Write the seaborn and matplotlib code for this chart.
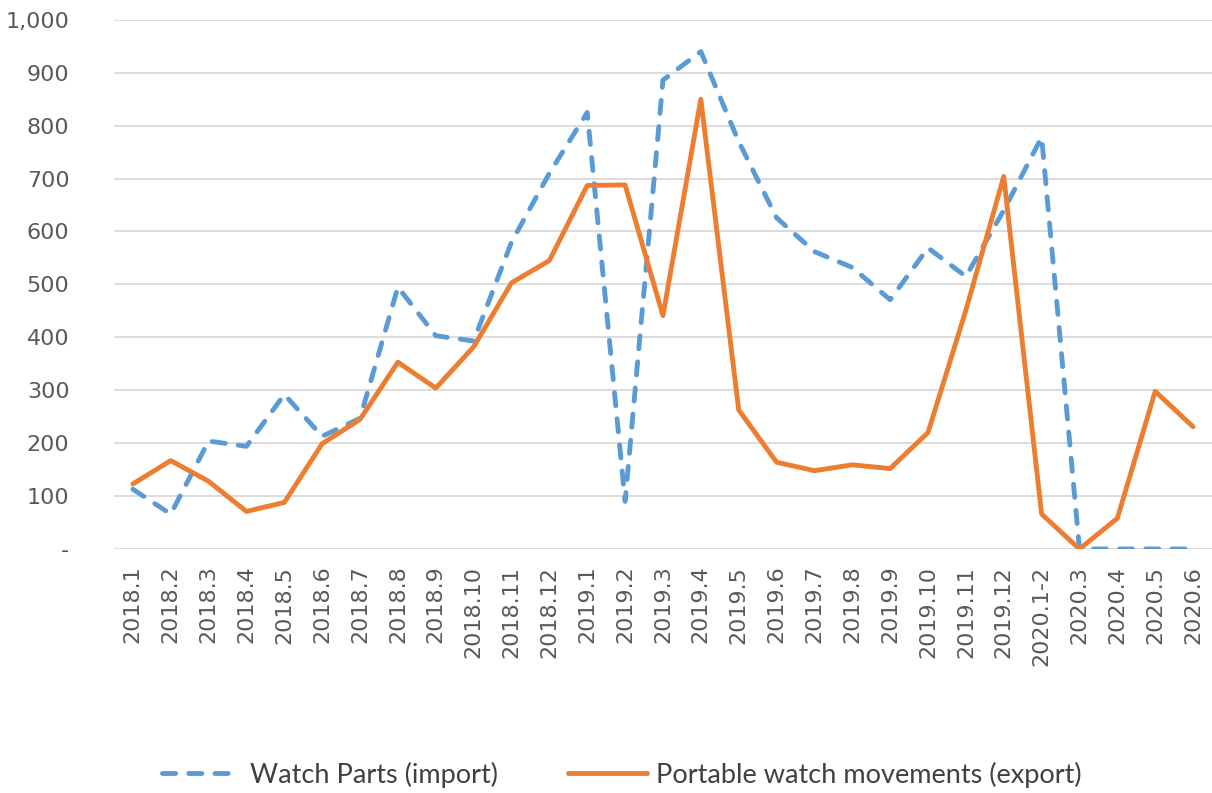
import numpy as np
import pandas as pd
import seaborn as sns
import matplotlib.pyplot as plt
from matplotlib.ticker import FuncFormatter

months = ['2018.1', '2018.2', '2018.3', '2018.4', '2018.5', '2018.6', '2018.7',
          '2018.8', '2018.9', '2018.10', '2018.11', '2018.12',
          '2019.1', '2019.2', '2019.3', '2019.4', '2019.5', '2019.6', '2019.7',
          '2019.8', '2019.9', '2019.10', '2019.11', '2019.12',
          '2020.1-2', '2020.3', '2020.4', '2020.5', '2020.6']
watch_parts = [113, 66, 204, 194, 292, 213, 247, 495, 403, 393, 580, 710,
               825, 90, 886, 940, 770, 626, 562, 532, 471, 569, 515, 640,
               778, 0, 0, 0, 0]
movements = [123, 167, 128, 71, 88, 199, 245, 353, 304, 382, 503, 545,
             687, 688, 441, 850, 263, 164, 148, 159, 152, 220, 451, 704,
             66, 0, 58, 298, 231]

df = pd.DataFrame({'month': months, 'parts': watch_parts, 'moves': movements})

sns.set_style("white")
plt.rcParams['font.family'] = ['DejaVu Sans']

fig = plt.figure(figsize=(12.12, 7.93), dpi=100)
ax = fig.add_axes([0.094, 0.3077, 0.906, 0.975 - 0.3077])

sns.lineplot(data=df, x='month', y='parts', ax=ax, sort=False, color='#5B9BD5',
             lw=3.5, label='Watch Parts (import)')
sns.lineplot(data=df, x='month', y='moves', ax=ax, sort=False, color='#ED7D31',
             lw=3.5, label='Portable watch movements (export)')
ax.lines[0].set_dashes((2.7, 2.7))
ax.lines[0].set_dash_capstyle('round')

ax.set_ylim(0, 1000)
ax.set_xlim(-0.5, len(months) - 0.5)
ax.set_yticks(range(0, 1001, 100))
ax.yaxis.set_major_formatter(FuncFormatter(lambda v, p: '-' if v == 0 else f'{int(v):,}'))
ax.grid(axis='y', color='#D9D9D9', lw=1.3)
ax.grid(axis='x', visible=False)
ax.set_axisbelow(True)
for s in ax.spines.values():
    s.set_visible(False)
ax.tick_params(axis='both', length=0, colors='#595959', labelsize=16)
ax.tick_params(axis='y', pad=32)
ax.tick_params(axis='x', pad=12)
plt.setp(ax.get_xticklabels(), rotation=90)
ax.set_xlabel('')
ax.set_ylabel('')

ax.get_legend().remove()
h, l = ax.get_legend_handles_labels()
leg = fig.legend(h, l, loc='center', bbox_to_anchor=(0.513, 0.023), ncol=2,
                 frameon=False, handlelength=2.9, handletextpad=0.35,
                 columnspacing=2.6, prop={'family': 'Lato', 'size': 19.5})
leg.legend_handles[0].set_dashes((2.7, 2.7))
leg.legend_handles[0].set_dash_capstyle('round')
for t in leg.get_texts():
    t.set_color('#404040')

fig.savefig('out.png', dpi=100)
